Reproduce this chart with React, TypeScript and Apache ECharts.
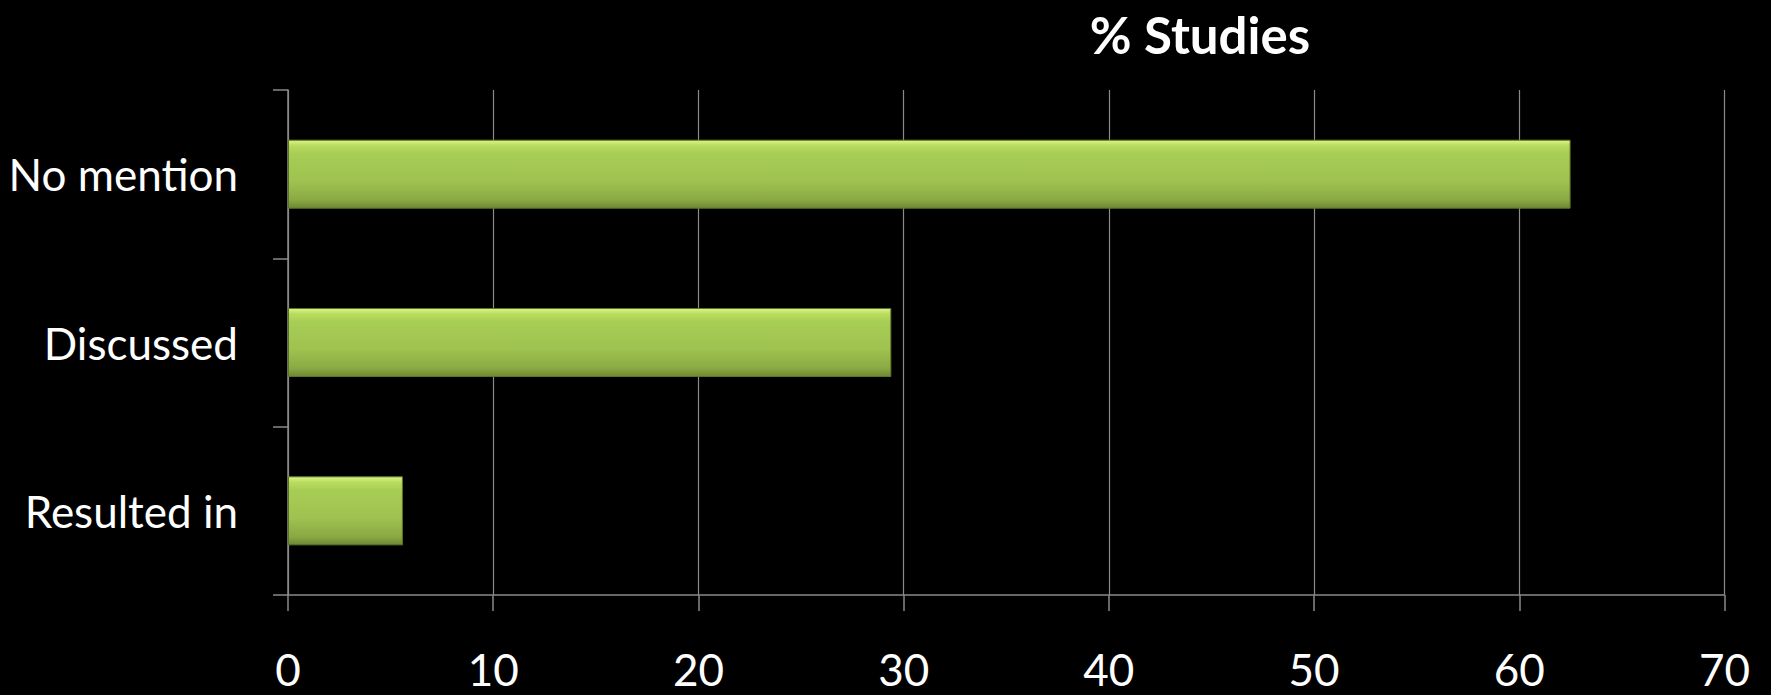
import React, { useEffect, useRef } from "react";
import * as echarts from "echarts";

const categories = ["No mention", "Discussed", "Resulted in"];
const studyPercent = [62.5, 29.4, 5.6];
const titleText = "% Studies";

export default function App() {
  const ref = useRef<HTMLDivElement>(null);
  useEffect(() => {
    if (!ref.current) return;
    const chart = echarts.init(ref.current, null, { renderer: "svg" });
    const gray = "#8a8a8a";
    chart.setOption({
      animation: false,
      backgroundColor: "#000000",
      graphic: [
        {
          type: "text",
          x: 1200,
          y: 34,
          style: {
            text: titleText,
            fill: "#ffffff",
            font: "bold 51px Lato",
            textAlign: "center",
            textVerticalAlign: "middle",
          },
        },
      ],
      grid: { left: 288, right: 46.5, top: 90, bottom: 100 },
      xAxis: {
        type: "value",
        min: 0,
        max: 70,
        interval: 10,
        axisLine: { show: true, lineStyle: { color: gray, width: 1.5 } },
        axisTick: { show: true, length: 16, lineStyle: { color: gray, width: 1.5 } },
        splitLine: { show: true, lineStyle: { color: gray, width: 1.2 } },
        axisLabel: {
          color: "#ffffff",
          fontFamily: "Lato",
          fontSize: 44,
          margin: 52,
        },
      },
      yAxis: {
        type: "category",
        data: categories,
        inverse: true,
        axisLine: { show: true, lineStyle: { color: gray, width: 1.5 } },
        axisTick: { show: true, length: 15, lineStyle: { color: gray, width: 1.5 } },
        axisLabel: {
          color: "#ffffff",
          fontFamily: "Lato",
          fontSize: 44,
          margin: 50,
          align: "right",
        },
      },
      series: [
        {
          type: "bar",
          data: studyPercent,
          barCategoryGap: "59%",
          itemStyle: {
            borderColor: "#5c7628",
            borderWidth: 1,
            color: new echarts.graphic.LinearGradient(0, 0, 0, 1, [
              { offset: 0, color: "#dff58a" },
              { offset: 0.08, color: "#b8dc5e" },
              { offset: 0.2, color: "#a8cd55" },
              { offset: 0.6, color: "#9fc250" },
              { offset: 0.88, color: "#8aa944" },
              { offset: 1, color: "#6d8833" },
            ]),
          },
        },
      ],
    });
    return () => chart.dispose();
  }, []);
  return (
    <div
      ref={ref}
      style={{ position: "fixed", left: 0, top: 0, width: 1771, height: 695, background: "#000" }}
    />
  );
}
